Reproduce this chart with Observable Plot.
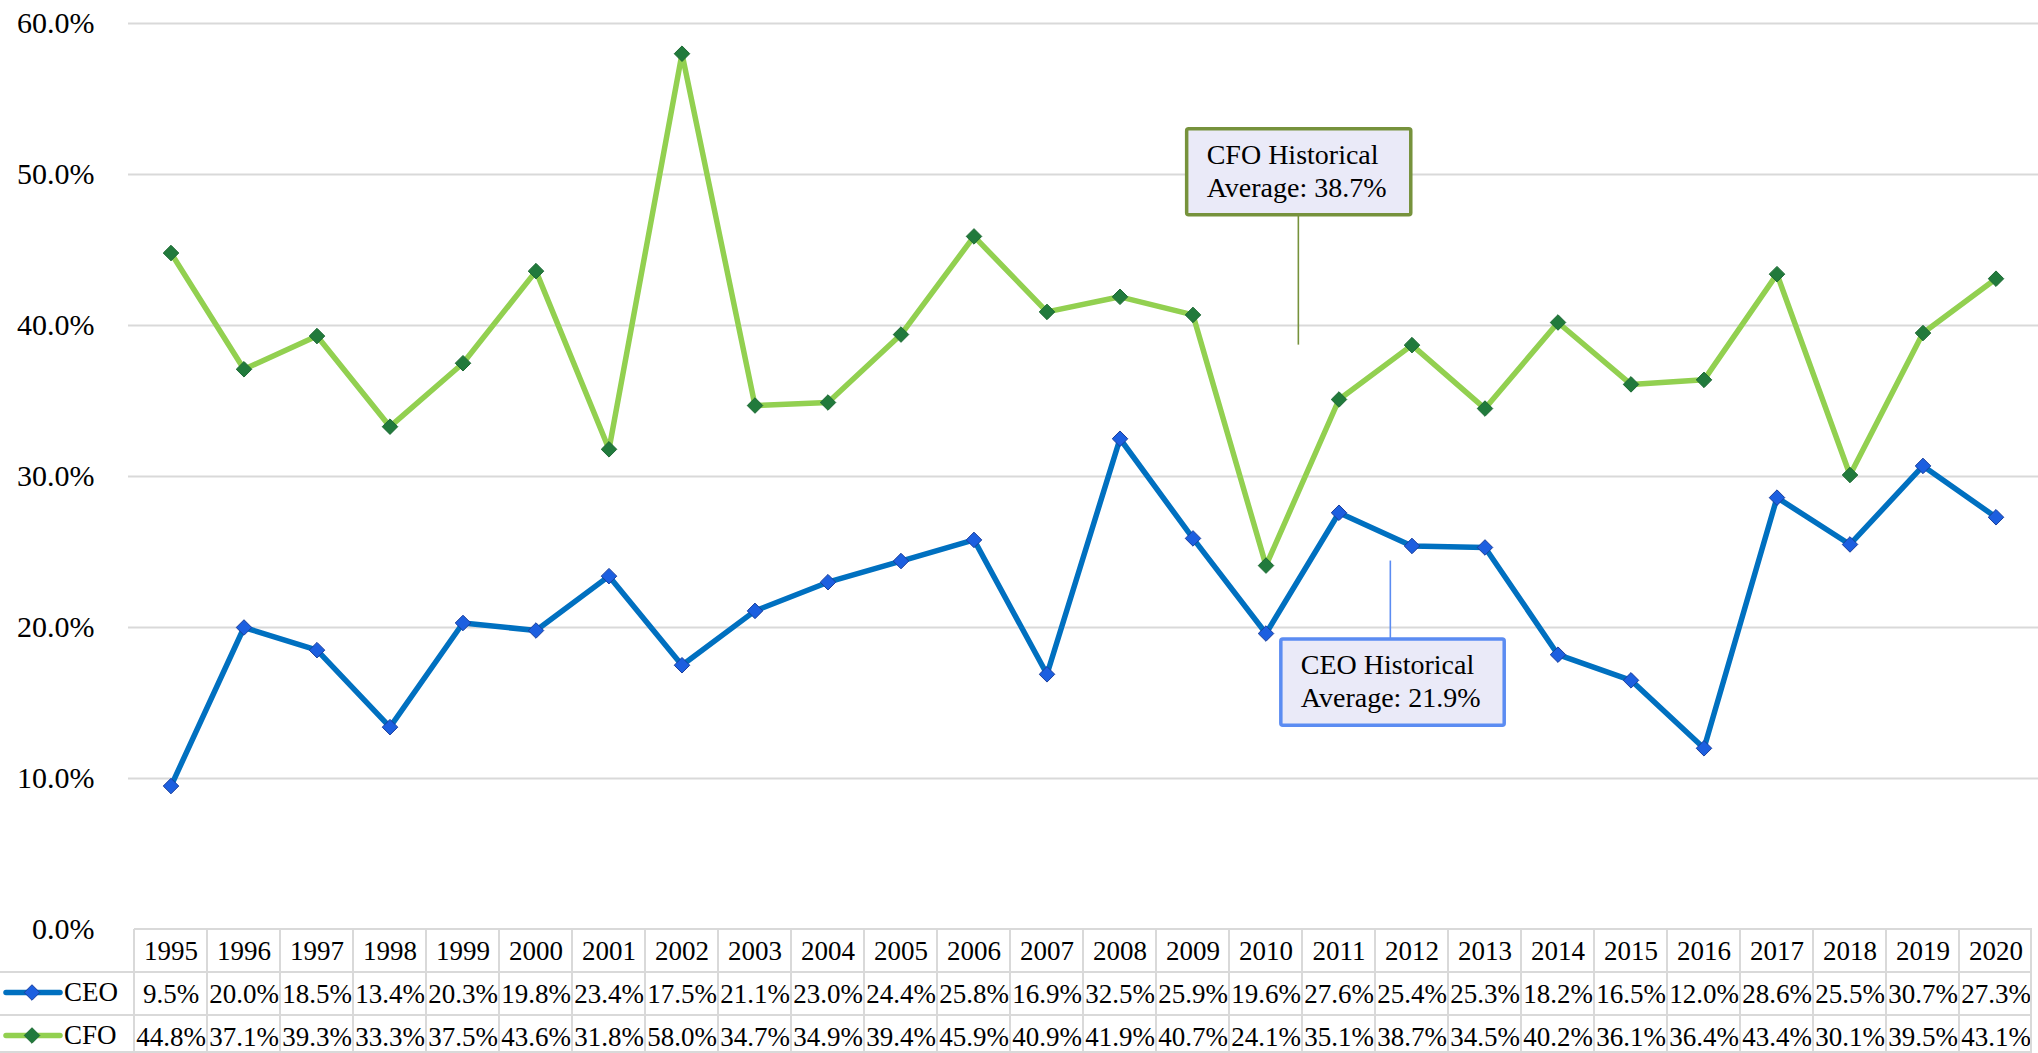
<!DOCTYPE html>
<html><head><meta charset="utf-8">
<script src="https://cdn.jsdelivr.net/npm/d3@7"></script>
<script src="https://cdn.jsdelivr.net/npm/@observablehq/plot@0.6"></script>
<style>body{margin:0;background:#fff} svg{display:block}</style>
</head><body><div id="chart"></div>
<script>
const years = ["1995","1996","1997","1998","1999","2000","2001","2002","2003","2004","2005","2006","2007","2008","2009","2010","2011","2012","2013","2014","2015","2016","2017","2018","2019","2020"];
const ceo = [9.5,20.0,18.5,13.4,20.3,19.8,23.4,17.5,21.1,23.0,24.4,25.8,16.9,32.5,25.9,19.6,27.6,25.4,25.3,18.2,16.5,12.0,28.6,25.5,30.7,27.3];
const cfo = [44.8,37.1,39.3,33.3,37.5,43.6,31.8,58.0,34.7,34.9,39.4,45.9,40.9,41.9,40.7,24.1,35.1,38.7,34.5,40.2,36.1,36.4,43.4,30.1,39.5,43.1];
const yTicks = [0,10,20,30,40,50,60];
const seriesNames = ["CEO","CFO"];
const lineColors = ["#0070C0","#92D050"];
const markerFill = ["#1C5FE0","#217A3C"];
const markerStroke = ["#1A3E9C","#1D6A34"];
const callouts = [
  {lines:["CFO Historical","Average: 38.7%"], left:2008.92, right:2011.99, top:53.0, bottom:47.3, leaderX:2010.45, leaderEnd:38.7, stroke:"#76923C"},
  {lines:["CEO Historical","Average: 21.9%"], left:2010.21, right:2013.27, top:19.2, bottom:13.5, leaderX:2011.71, leaderEnd:24.4, stroke:"#5B8CF2"}
];

const fmt = d => d.toFixed(1) + "%";
const data = [];
seriesNames.forEach((s, si) => {
  const vals = si === 0 ? ceo : cfo;
  years.forEach((y, i) => data.push({series: s, year: y, value: vals[i]}));
});

const W = 2038, H = 1053, ML = 128, MT = 23, MB = 124, rowH = 43;
const FONT = "'Liberation Serif', 'Times New Roman', serif";

const marks = [
  Plot.ruleY(yTicks.filter(d => d > 0), {stroke: "#D9D9D9", strokeWidth: 2}),
  Plot.axisY({ticks: yTicks, tickFormat: fmt, tickSize: 0, tickPadding: 34, fontSize: 30, label: null, fill: "#000"}),
];
seriesNames.forEach((s, si) => {
  const d = data.filter(r => r.series === s);
  marks.push(Plot.line(d, {x: "year", y: "value", stroke: lineColors[si], strokeWidth: 5.5, strokeLinejoin: "round", strokeLinecap: "round"}));
});
seriesNames.forEach((s, si) => {
  const d = data.filter(r => r.series === s);
  marks.push(Plot.dot(d, {x: "year", y: "value", symbol: "diamond2", r: 7, fill: markerFill[si], stroke: markerStroke[si], strokeWidth: 1}));
});
// table text
marks.push(Plot.text(years, {x: d => d, y: () => 0, dy: 22, text: d => d, fontSize: 27, fill: "#000"}));
seriesNames.forEach((s, si) => {
  const d = data.filter(r => r.series === s);
  marks.push(Plot.text(d, {x: "year", y: () => 0, dy: 22 + rowH * (si + 1), text: r => fmt(r.value), fontSize: 27, fill: "#000"}));
});

const plot = Plot.plot({
  width: W, height: H,
  marginLeft: ML, marginRight: 0, marginTop: MT, marginBottom: MB,
  style: {fontFamily: FONT, fontSize: "26px", color: "#000", background: "#fff"},
  x: {type: "band", domain: years, padding: 0, axis: null},
  y: {domain: [0, 60], axis: null},
  marks
});
document.getElementById("chart").appendChild(plot);

const xs = plot.scale("x"), ys = plot.scale("y");
const bw = xs.bandwidth;
const xPix = y => xs.apply(String(y));
const xAt = t => { const f = Math.floor(t); return xPix(f) + bw / 2 + (t - f) * bw; };
const yPix = v => ys.apply(v);
const svg = d3.select(plot);
const y0 = yPix(0);
const right = xPix(years[years.length - 1]) + bw;

// table borders
const tb = svg.append("g").attr("stroke", "#D9D9D9").attr("stroke-width", 2);
tb.append("line").attr("x1", xPix(years[0])).attr("x2", right).attr("y1", y0).attr("y2", y0);
[1, 2].forEach(k => tb.append("line").attr("x1", 0).attr("x2", right).attr("y1", y0 + rowH * k).attr("y2", y0 + rowH * k));
tb.append("line").attr("x1", 0).attr("x2", right).attr("y1", H - 1).attr("y2", H - 1);
years.forEach(y => tb.append("line").attr("x1", xPix(y)).attr("x2", xPix(y)).attr("y1", y0).attr("y2", H));
tb.append("line").attr("x1", right - 1).attr("x2", right - 1).attr("y1", y0).attr("y2", H);

// legend cells
seriesNames.forEach((s, si) => {
  const cy = y0 + rowH * (si + 1) + rowH / 2 - 1;
  const g = svg.append("g");
  g.append("line").attr("x1", 6).attr("x2", 60).attr("y1", cy).attr("y2", cy)
    .attr("stroke", lineColors[si]).attr("stroke-width", 5.5).attr("stroke-linecap", "round");
  g.append("path").attr("d", d3.symbol(d3.symbolDiamond2, Math.PI * 7 * 7)())
    .attr("transform", `translate(32,${cy})`).attr("fill", markerFill[si]).attr("stroke", markerStroke[si]).attr("stroke-width", 1);
  g.append("text").attr("x", 64).attr("y", cy).attr("dy", "0.32em").attr("text-anchor", "start")
    .attr("font-size", 27).attr("fill", "#000").text(s);
});

// callouts
callouts.forEach(c => {
  const g = svg.append("g");
  const lx = xAt(c.leaderX);
  const bx0 = xAt(c.left), bx1 = xAt(c.right), by0 = yPix(c.top), by1 = yPix(c.bottom);
  const ly = yPix(c.leaderEnd);
  const near = ly < by0 ? by0 : by1;
  g.append("line").attr("x1", lx).attr("x2", lx).attr("y1", ly).attr("y2", near)
    .attr("stroke", c.stroke).attr("stroke-width", 1.6);
  g.append("rect").attr("x", bx0).attr("y", by0).attr("width", bx1 - bx0).attr("height", by1 - by0)
    .attr("rx", 2).attr("fill", "#EAEAF8").attr("stroke", c.stroke).attr("stroke-width", 3.5);
  c.lines.forEach((t, i) => g.append("text").attr("x", bx0 + 20).attr("y", by0 + 35 + i * 33)
    .attr("text-anchor", "start").attr("font-size", 28).attr("fill", "#000").text(t));
});
</script></body></html>
